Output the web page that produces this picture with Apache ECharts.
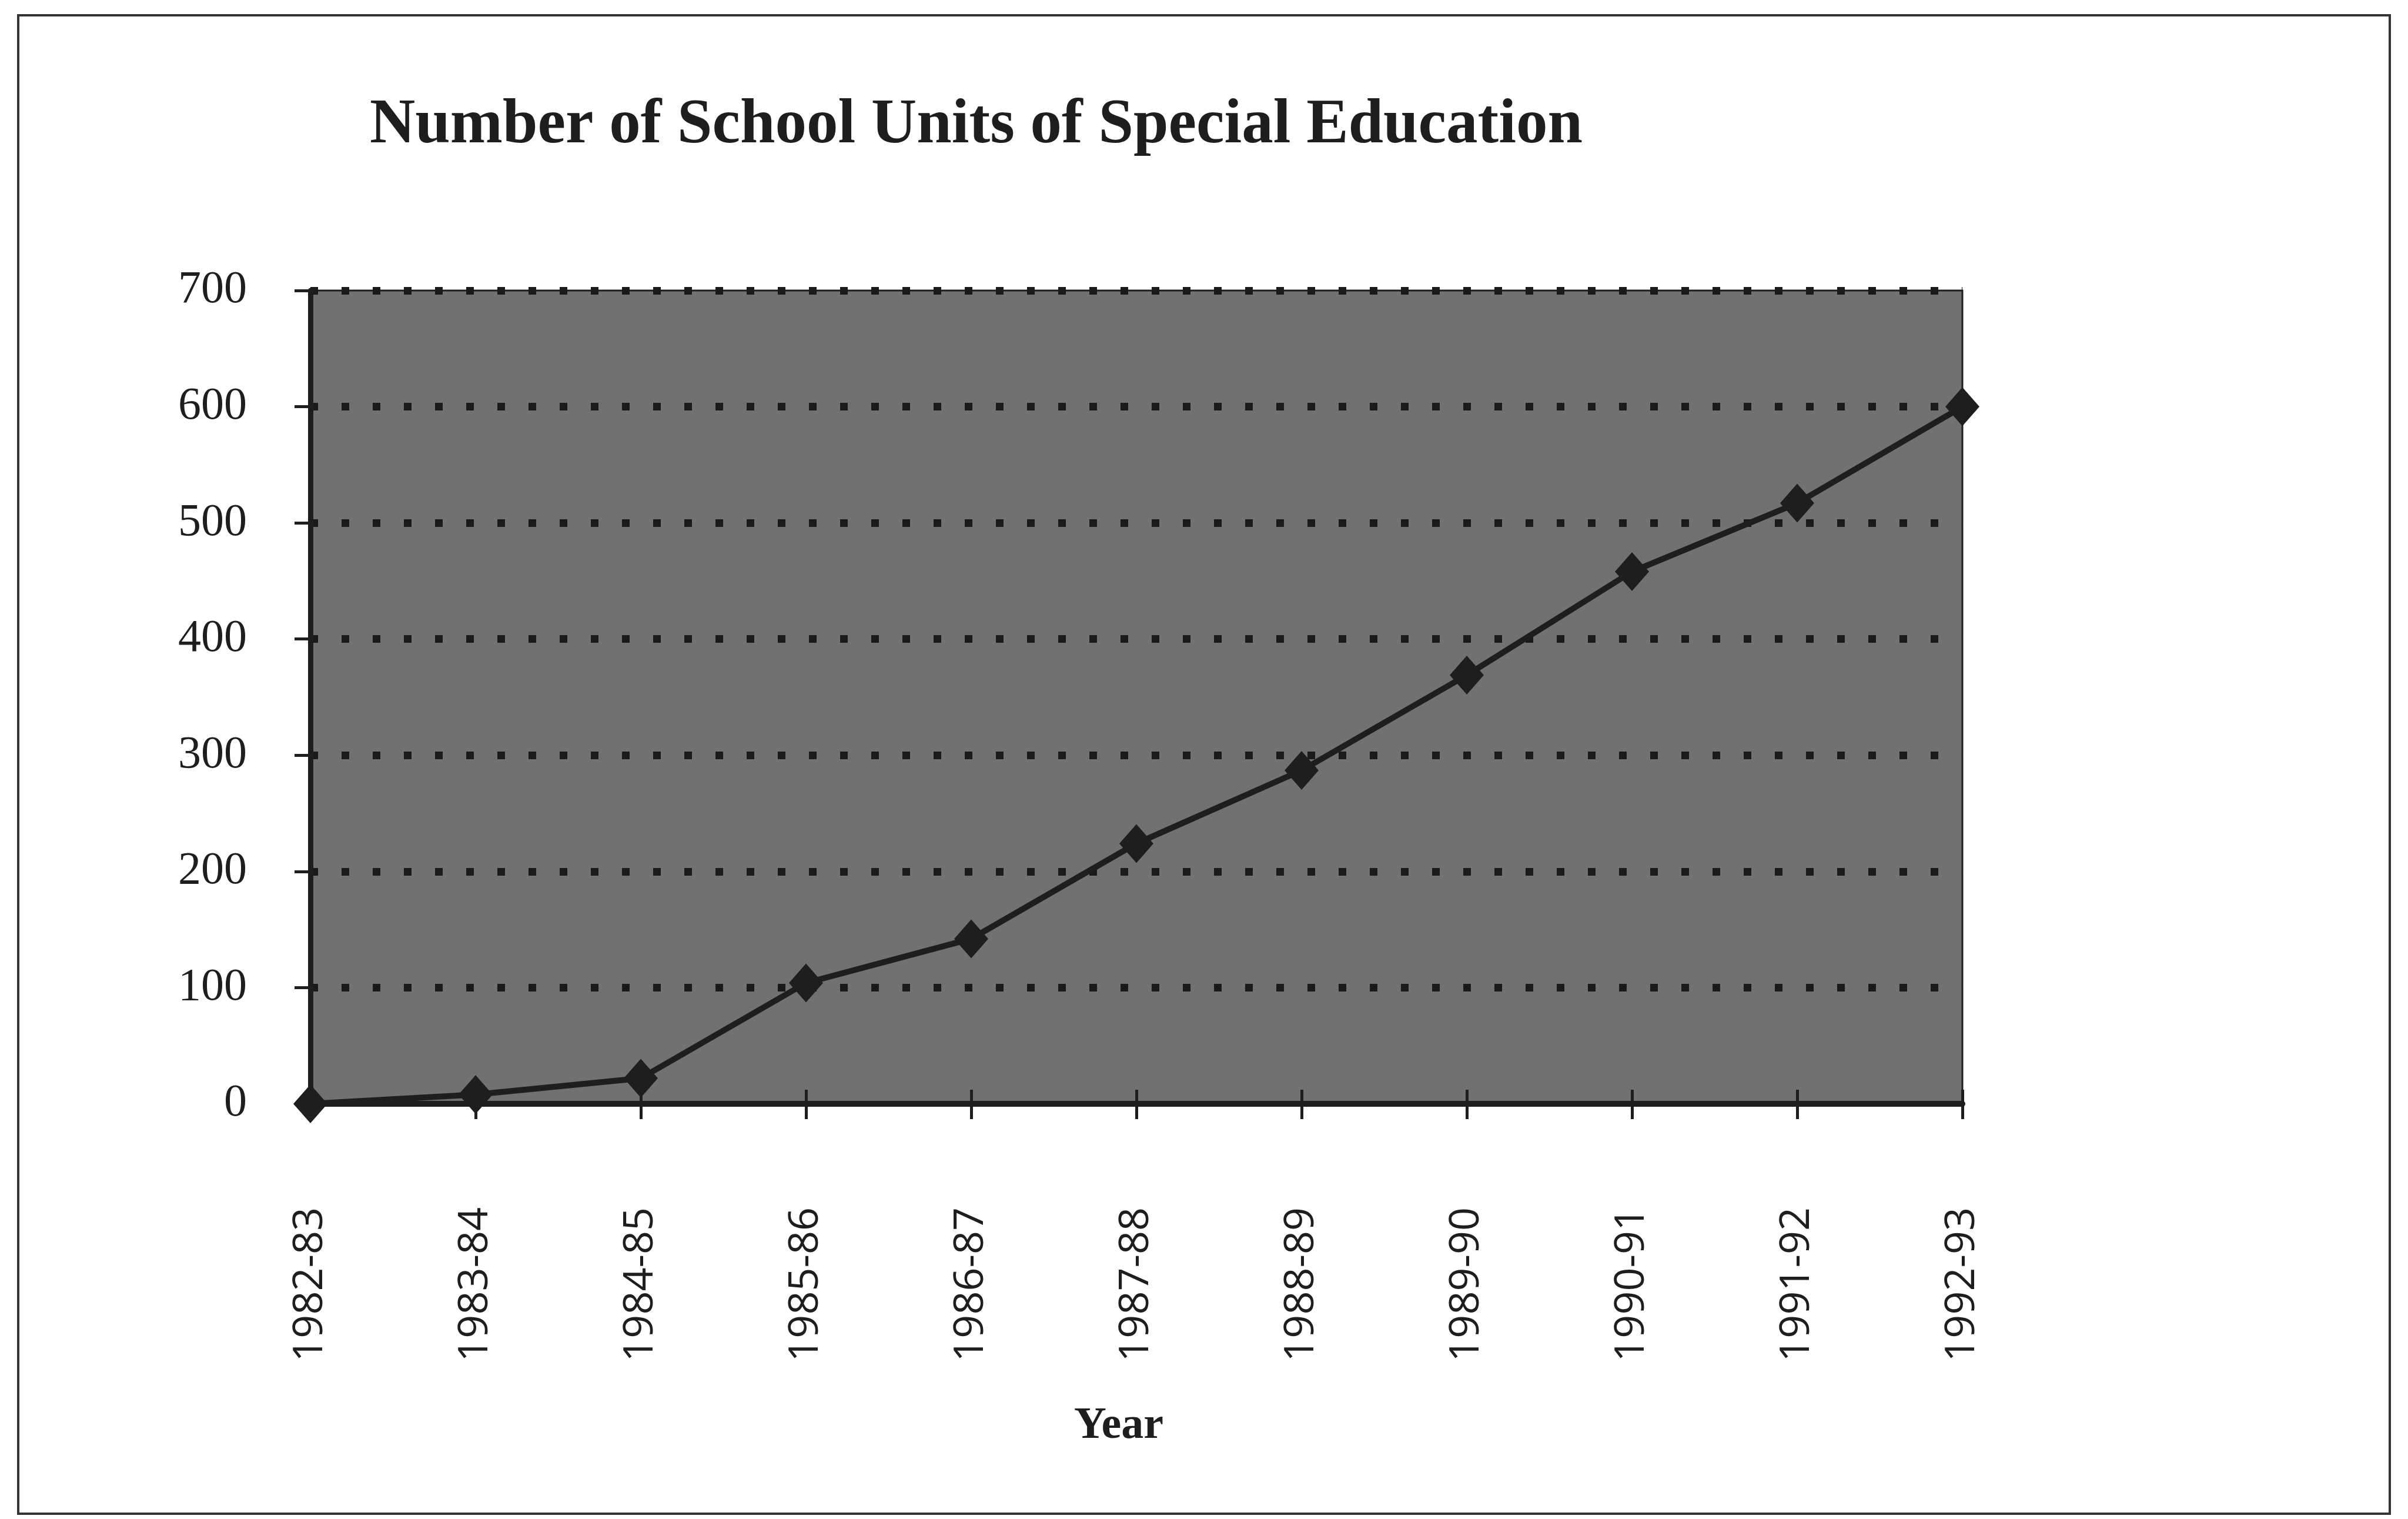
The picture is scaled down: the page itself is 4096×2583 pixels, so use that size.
<!DOCTYPE html>
<html>
<head>
<meta charset="utf-8">
<script src="https://cdn.jsdelivr.net/npm/echarts@6/dist/echarts.min.js"></script>
<style>
html,body{margin:0;padding:0;background:#fff;}
#chart{width:4096px;height:2583px;}
</style>
</head>
<body>
<div id="chart"></div>
<script>
const categories = ['1982-83','1983-84','1984-85','1985-86','1986-87','1987-88','1988-89','1989-90','1990-91','1991-92','1992-93'];
const schoolUnits = [0, 8, 22, 104, 142, 224, 287, 369, 458, 517, 600];
const yTicks = {min: 0, max: 700, interval: 100};
const chartTitle = 'Number of School Units of Special Education';
const xAxisTitle = 'Year';

const chart = echarts.init(document.getElementById('chart'), null, {renderer: 'canvas'});
const ink = '#1e1e1e';
chart.setOption({
  animation: false,
  backgroundColor: '#ffffff',
  title: {
    text: chartTitle,
    left: 624,
    top: 156,
    textStyle: {fontFamily: 'Liberation Serif', fontWeight: 'bold', fontSize: 107, color: ink}
  },
  graphic: [{
    type: 'rect',
    shape: {x: 31, y: 26, width: 4034, height: 2548},
    style: {fill: 'none', stroke: '#333', lineWidth: 4},
    silent: true
  }],
  grid: {
    left: 528, right: 758, top: 494, bottom: 706,
    show: true,
    backgroundColor: '#717171',
    borderColor: ink,
    borderWidth: 3
  },
  xAxis: [{
    type: 'category',
    data: categories,
    boundaryGap: false,
    axisLine: {lineStyle: {color: ink, width: 10}},
    axisTick: {show: true, alignWithLabel: true, length: 26, lineStyle: {color: ink, width: 5}},
    axisLabel: {
      rotate: 90, margin: 176, fontFamily: 'Open Sans', fontSize: 70, color: ink
    },
    splitLine: {show: false},
    name: xAxisTitle,
    nameLocation: 'middle',
    nameGap: 510,
    nameTextStyle: {fontFamily: 'Liberation Serif', fontWeight: 'bold', fontSize: 76, color: ink, padding: [0, 60, 0, 0]}
  }, {
    type: 'category',
    data: categories,
    boundaryGap: false,
    position: 'bottom',
    axisLine: {show: false},
    axisTick: {show: true, inside: true, alignWithLabel: true, length: 24, lineStyle: {color: ink, width: 5}},
    axisLabel: {show: false},
    splitLine: {show: false}
  }],
  yAxis: {
    type: 'value',
    min: yTicks.min, max: yTicks.max, interval: yTicks.interval,
    axisLine: {show: true, lineStyle: {color: ink, width: 9}},
    axisTick: {show: true, length: 27, lineStyle: {color: ink, width: 5}},
    axisLabel: {margin: 108, fontFamily: 'Liberation Serif', fontSize: 78, color: ink},
    splitLine: {show: true, showMinLine: false, lineStyle: {color: '#1a1a1a', width: 13, type: [13, 40]}}
  },
  series: [{
    type: 'line',
    data: schoolUnits,
    xAxisIndex: 0,
    symbol: 'diamond',
    symbolSize: [58, 66],
    lineStyle: {color: ink, width: 10},
    itemStyle: {color: ink},
    z: 5
  }]
});
</script>
</body>
</html>
